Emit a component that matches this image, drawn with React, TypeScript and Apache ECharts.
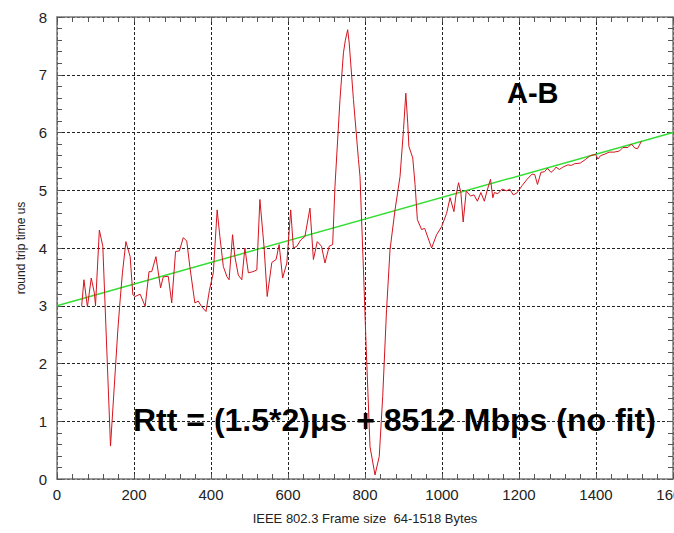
import React, { useEffect, useRef } from "react";
import * as echarts from "echarts";

const frameSizes = [
  64, 70, 79, 89, 97, 100, 110, 119, 139, 158, 164, 170, 179, 190, 197, 203, 216, 229, 239, 246,
  257, 269, 276, 289, 298, 308, 318, 328, 337, 345, 358, 367, 375, 387, 396, 406, 416, 423, 432, 441,
  447, 456, 462, 471, 480, 488, 497, 509, 519, 527, 538, 546, 558, 569, 577, 586, 597, 607, 614, 623,
  633, 644, 657, 666, 676, 687, 696, 707, 716, 722, 735, 744, 749, 755, 759, 770, 783, 787, 796, 803,
  813, 826, 837, 846, 856, 865, 878, 891, 900, 906, 911, 914, 924, 930, 936, 947, 955, 973, 986, 999,
  1012, 1021, 1031, 1036, 1043, 1049, 1055, 1063, 1074, 1083, 1092, 1101, 1110, 1117, 1126, 1132, 1136, 1145, 1156, 1168,
  1176, 1185, 1194, 1208, 1221, 1234, 1241, 1248, 1257, 1266, 1274, 1283, 1292, 1296, 1305, 1314, 1327, 1336, 1345, 1359,
  1372, 1385, 1399, 1405, 1412, 1421, 1434, 1447, 1461, 1470, 1483, 1492, 1501, 1508, 1518,
];
const rttValues = [
  2.99, 3.45, 2.98, 3.48, 3.22, 3.0, 4.31, 4.03, 0.57, 2.58, 3.1, 3.57, 4.11, 3.85, 3.19, 3.16, 3.2, 2.99, 3.59, 3.59,
  3.85, 3.31, 3.5, 3.51, 3.05, 3.94, 3.95, 4.18, 4.12, 3.68, 3.05, 3.08, 2.99, 2.9, 3.27, 3.57, 4.66, 4.2, 3.68, 3.51,
  3.45, 4.23, 3.85, 3.53, 3.45, 4.0, 3.57, 3.59, 3.62, 4.84, 4.0, 3.16, 3.75, 3.8, 4.06, 3.48, 3.74, 4.66, 4.0, 4.03,
  4.14, 4.2, 4.69, 3.8, 4.11, 4.03, 3.74, 4.03, 4.06, 5.07, 6.57, 7.38, 7.6, 7.78, 7.55, 6.57, 5.53, 5.24, 3.62, 2.29,
  0.56, 0.07, 0.39, 1.43, 2.93, 3.97, 4.66, 5.24, 6.05, 6.68, 6.16, 5.76, 5.56, 5.1, 4.49, 4.32, 4.34, 4.0, 4.23, 4.37,
  4.6, 4.87, 4.63, 4.9, 5.13, 4.96, 4.45, 4.99, 4.9, 4.92, 4.81, 4.96, 4.81, 4.99, 5.19, 4.87, 4.96, 4.94, 5.02, 4.99,
  5.02, 4.92, 4.95, 5.08, 5.19, 5.28, 5.27, 5.1, 5.31, 5.32, 5.38, 5.31, 5.36, 5.4, 5.36, 5.4, 5.44, 5.43, 5.46, 5.47,
  5.53, 5.6, 5.62, 5.54, 5.6, 5.62, 5.66, 5.66, 5.68, 5.74, 5.74, 5.8, 5.73, 5.72, 5.85,
];
const fitX = [0, 1600];
const fitY = [3.0, 6.0];

const xAxisTitle = "IEEE 802.3 Frame size  64-1518 Bytes";
const yAxisTitle = "round trip time us";
const pairLabel = "A-B";
const formulaLabel = "Rtt = (1.5*2)μs + 8512 Mbps (no fit)";

const FONT = "'Liberation Sans', Arial, sans-serif";

export default function App() {
  const ref = useRef<HTMLDivElement>(null);
  useEffect(() => {
    document.body.style.margin = "0";
    const chart = echarts.init(ref.current!, null, { renderer: "svg" });
    const axisLine = { show: true, onZero: false, lineStyle: { color: "#7a7a7a", width: 1.5 } };
    const tick = { show: true, inside: true, length: 5, lineStyle: { color: "#555", width: 1 } };
    const minor = { show: true, splitNumber: 5, length: 5, lineStyle: { color: "#555", width: 1 } };
    const split = { show: true, lineStyle: { color: "#222", type: [3, 2], width: 1 } };
    chart.setOption({
      animation: false,
      backgroundColor: "#fff",
      grid: { left: 57, right: 1, top: 17, bottom: 54, containLabel: false, outerBoundsMode: "none" },
      xAxis: [
        {
          type: "value", min: 0, max: 1600, interval: 200, position: "bottom",
          axisLine, axisTick: tick, minorTick: minor, splitLine: split,
          axisLabel: { color: "#222", fontSize: 15, fontFamily: FONT, margin: 8, formatter: (v: number) => String(v) },
          name: xAxisTitle, nameLocation: "middle", nameGap: 33,
          nameTextStyle: { color: "#222", fontSize: 13, fontFamily: FONT },
        },
        {
          type: "value", min: 0, max: 1600, interval: 200, position: "top",
          axisLine, axisTick: tick, minorTick: minor, splitLine: { show: false },
          axisLabel: { show: false },
        },
      ],
      yAxis: [
        {
          type: "value", min: 0, max: 8, interval: 1, position: "left",
          axisLine, axisTick: tick, minorTick: minor, splitLine: split,
          axisLabel: { color: "#222", fontSize: 15, fontFamily: FONT, margin: 10 },
          name: yAxisTitle, nameLocation: "middle", nameGap: 30, nameRotate: 90,
          nameTextStyle: { color: "#222", fontSize: 12, fontFamily: FONT },
        },
        {
          type: "value", min: 0, max: 8, interval: 1, position: "right",
          axisLine, axisTick: tick, minorTick: minor, splitLine: { show: false },
          axisLabel: { show: false },
        },
      ],
      series: [
        {
          type: "line",
          data: fitX.map((x, i) => [x, fitY[i]]),
          showSymbol: false,
          lineStyle: { color: "#33dd33", width: 1.5 },
          z: 2,
        },
        {
          type: "line",
          data: frameSizes.map((x, i) => [x, rttValues[i]]),
          showSymbol: false,
          lineStyle: { color: "#d4141e", width: 1 },
          z: 3,
        },
      ],
      graphic: [
        {
          type: "text", left: 507, top: 78, z: 10,
          style: { text: pairLabel, font: `bold 29px ${FONT}`, fill: "#000" },
        },
        {
          type: "text", left: 133, top: 404, z: 10,
          style: { text: formulaLabel, font: `bold 32px ${FONT}`, fill: "#000" },
        },
      ],
    });
    return () => chart.dispose();
  }, []);
  return <div ref={ref} style={{ width: 674, height: 533 }} />;
}
